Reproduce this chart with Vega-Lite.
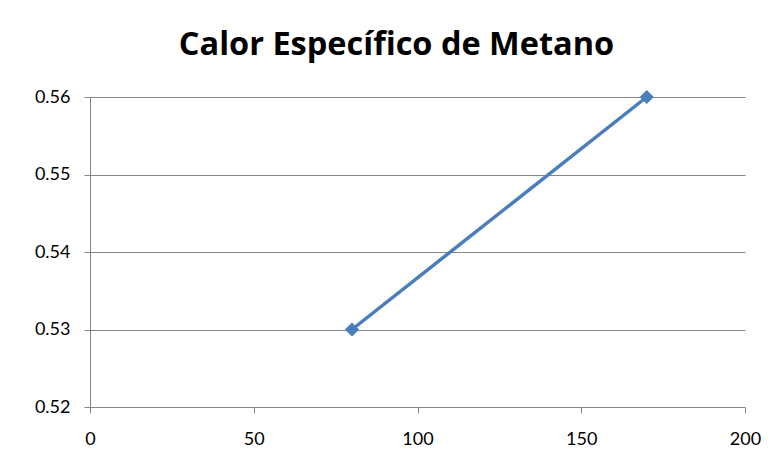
{
  "$schema": "https://vega.github.io/schema/vega-lite/v6.json",
  "width": 655,
  "height": 310,
  "autosize": "none",
  "padding": {"left": 90, "top": 97, "right": 29, "bottom": 67},
  "background": "white",
  "title": {
    "text": "Calor Específico de Metano",
    "font": "Open Sans",
    "fontSize": 32.5,
    "fontWeight": "bold",
    "color": "#000000",
    "anchor": "middle",
    "dx": -21,
    "baseline": "alphabetic",
    "offset": 1
  },
  "data": {
    "values": [
      {"temp": 80, "cp": 0.53},
      {"temp": 170, "cp": 0.56}
    ]
  },
  "encoding": {
    "x": {
      "field": "temp",
      "type": "quantitative",
      "scale": {"domain": [0, 200], "nice": false, "zero": false},
      "axis": {
        "title": null,
        "values": [0, 50, 100, 150, 200],
        "grid": false,
        "labelFlush": false,
        "domainColor": "#868686",
        "tickColor": "#868686",
        "tickSize": 6,
        "labelPadding": 17,
        "labelFont": "Lato",
        "labelFontSize": 18,
        "labelColor": "#000000"
      }
    },
    "y": {
      "field": "cp",
      "type": "quantitative",
      "scale": {"domain": [0.52, 0.56], "nice": false, "zero": false},
      "axis": {
        "title": null,
        "values": [0.52, 0.53, 0.54, 0.55, 0.56],
        "format": ".2f",
        "grid": true,
        "labelFlush": false,
        "gridColor": "#868686",
        "domainColor": "#868686",
        "tickColor": "#868686",
        "tickSize": 6,
        "labelPadding": 14,
        "labelFont": "Lato",
        "labelFontSize": 18,
        "labelColor": "#000000"
      }
    }
  },
  "layer": [
    {"mark": {"type": "line", "color": "#4a7ebb", "strokeWidth": 3.5}},
    {"mark": {"type": "point", "shape": "diamond", "filled": true, "size": 200, "color": "#4a7ebb", "opacity": 1}}
  ],
  "config": {"view": {"stroke": null}}
}
